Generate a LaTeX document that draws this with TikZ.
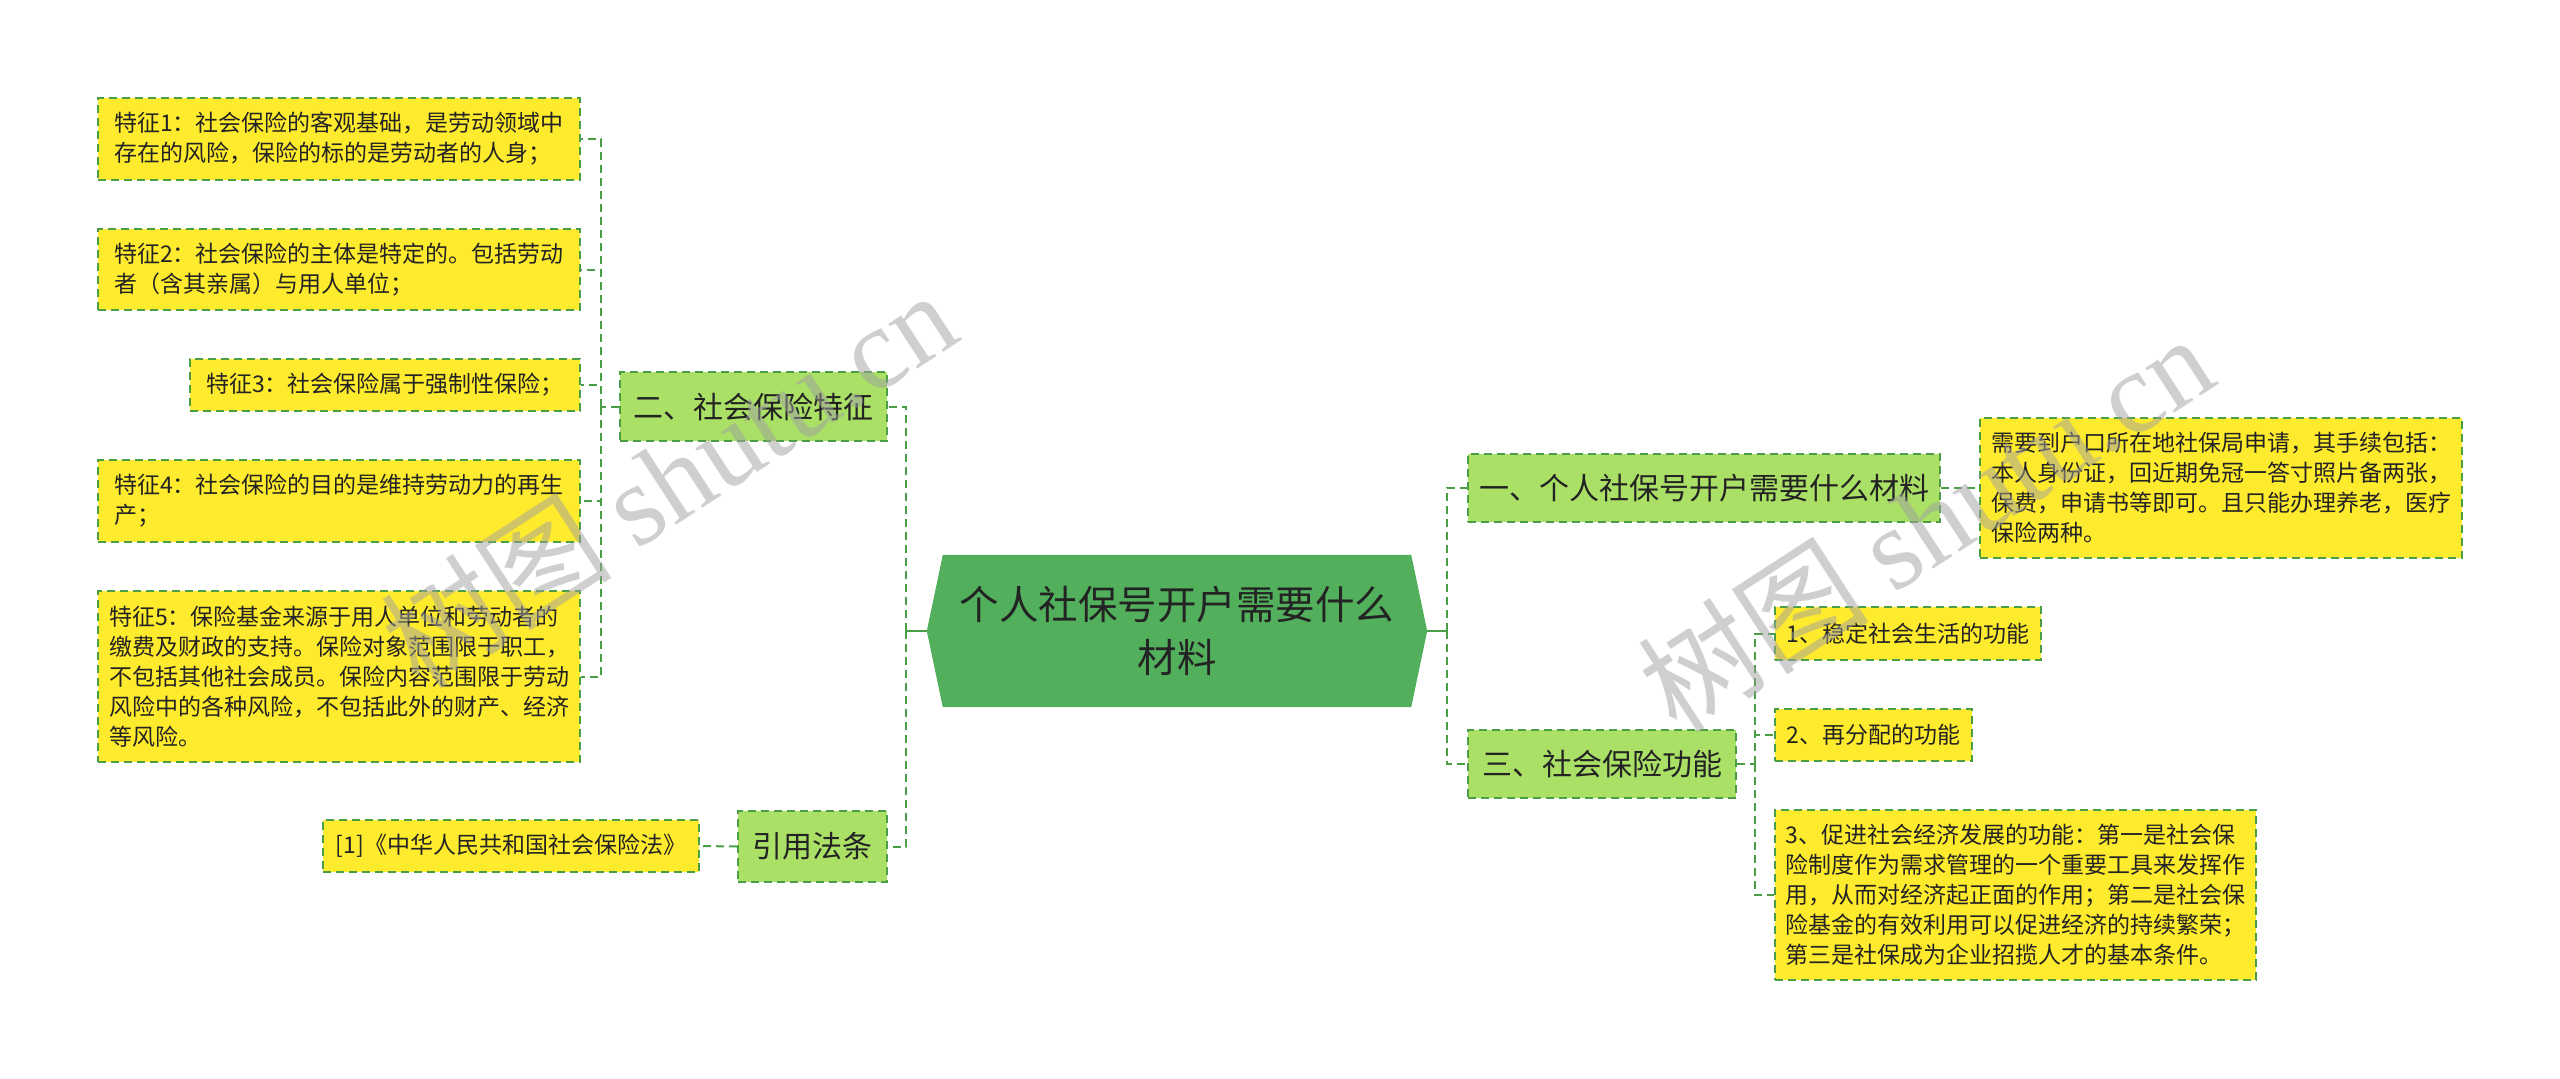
\documentclass[tikz,border=0pt]{standalone}
\usepackage{fontspec}
\setmainfont{Noto Sans CJK SC}
\newfontfamily\wmlatin{Liberation Serif}
\usetikzlibrary{backgrounds,calc}
\definecolor{rootfill}{RGB}{82,176,92}
\definecolor{brfill}{RGB}{170,224,102}
\definecolor{lffill}{RGB}{255,235,45}
\definecolor{edgec}{RGB}{76,158,70}
\definecolor{txt}{RGB}{35,35,35}
\definecolor{wmc}{RGB}{160,160,160}
\begin{document}
\begin{tikzpicture}[x=1pt,y=-1pt,
  leafbox/.style={draw=edgec, line width=2pt, dash pattern=on 8pt off 5pt, fill=lffill, text=txt, align=left, inner sep=0pt, font=\fontsize{23}{30}\selectfont},
  brbox/.style={draw=edgec, line width=2pt, dash pattern=on 8pt off 5pt, fill=brfill, text=txt, inner sep=0pt, font=\fontsize{30}{36}\selectfont},
  rootnode/.style={inner sep=0pt, text=txt, align=center, font=\fontsize{39.5}{53}\selectfont, minimum width=500pt, minimum height=152pt},
  conn/.style={draw=edgec, line width=2pt, dash pattern=on 8pt off 5pt},
  stub/.style={draw=edgec, line width=2.5pt},
  wmstyle/.style={text=wmc, opacity=0.5, font=\fontsize{116}{120}\selectfont, inner sep=0pt}
]
\useasboundingbox (0,0) rectangle (2560,1079);
\begin{scope}[on background layer]
\fill[white] (0,0) rectangle (2560,1079);
\end{scope}

% root
\node[rootnode] (root) at (1177,631) {个人社保号开户需要什么\\材料};
\begin{scope}[on background layer]
\fill[rootfill] ([xshift=16pt]root.north west) -- (root.west) -- ([xshift=16pt]root.south west)
  -- ([xshift=-16pt]root.south east) -- (root.east) -- ([xshift=-16pt]root.north east) -- cycle;
\end{scope}

% left branches
\node[brbox, minimum width=267pt, minimum height=69pt] (b2) at (753.5,406.5) {二、社会保险特征};
\node[brbox, minimum width=149pt, minimum height=71pt] (blaw) at (812.5,846.5) {引用法条};

% left leaves
\node[leafbox, minimum width=482pt, minimum height=82pt] (f1) at (339,139) {特征1：社会保险的客观基础，是劳动领域中\\存在的风险，保险的标的是劳动者的人身；};
\node[leafbox, minimum width=482pt, minimum height=81pt] (f2) at (339,269.5) {特征2：社会保险的主体是特定的。包括劳动\\者（含其亲属）与用人单位；};
\node[leafbox, minimum width=390pt, minimum height=52pt] (f3) at (385,385) {特征3：社会保险属于强制性保险；};
\node[leafbox, minimum width=482pt, minimum height=82pt] (f4) at (339,501) {特征4：社会保险的目的是维持劳动力的再生\\产；};
\node[leafbox, minimum width=482pt, minimum height=171pt] (f5) at (339,676.5) {特征5：保险基金来源于用人单位和劳动者的\\缴费及财政的支持。保险对象范围限于职工，\\不包括其他社会成员。保险内容范围限于劳动\\风险中的各种风险，不包括此外的财产、经济\\等风险。};
\node[leafbox, minimum width=376pt, minimum height=52pt] (lawleaf) at (511,846) {[1]《中华人民共和国社会保险法》};

% right branches
\node[brbox, minimum width=472pt, minimum height=68pt] (b1) at (1704,488) {一、个人社保号开户需要什么材料};
\node[brbox, minimum width=268pt, minimum height=68pt] (b3) at (1602,764) {三、社会保险功能};

% right leaves
\node[leafbox, minimum width=482pt, minimum height=140pt] (r1) at (2221,488) {需要到户口所在地社保局申请，其手续包括：\\本人身份证，回近期免冠一答寸照片备两张，\\保费，申请书等即可。且只能办理养老，医疗\\保险两种。};
\node[leafbox, minimum width=266pt, minimum height=53pt] (g1) at (1908,633.5) {1、稳定社会生活的功能};
\node[leafbox, minimum width=197pt, minimum height=52pt] (g2) at (1873.5,735) {2、再分配的功能};
\node[leafbox, minimum width=481pt, minimum height=170pt] (g3) at (2015.5,895) {3、促进社会经济发展的功能：第一是社会保\\险制度作为需求管理的一个重要工具来发挥作\\用，从而对经济起正面的作用；第二是社会保\\险基金的有效利用可以促进经济的持续繁荣；\\第三是社保成为企业招揽人才的基本条件。};

% connectors
\coordinate (jl) at (906,631);
\coordinate (jr) at (1447,631);
\draw[stub] (root.west) -- (jl);
\draw[conn] (jl) |- (b2.east);
\draw[conn] (jl) |- (blaw.east);
\draw[stub] (root.east) -- (jr);
\draw[conn] (jr) |- (b1.west);
\draw[conn] (jr) |- (b3.west);

\coordinate (j2) at (601,406.5);
\draw[conn] (b2.west) -- (j2);
\foreach \n in {f1,f2,f3,f4,f5} \draw[conn] (j2) |- (\n.east);
\draw[conn] (blaw.west) -- (lawleaf.east);

\draw[conn] (b1.east) -- (r1.west);
\coordinate (j3) at (1755,764);
\draw[conn] (b3.east) -- (j3);
\foreach \n in {g1,g2,g3} \draw[conn] (j3) |- (\n.west);

% watermarks
\node[wmstyle, rotate=33] (wm1) at (668,478) {树图 {\wmlatin shutu.cn}};
\node[wmstyle, rotate=33] (wm2) at (1925,522) {树图 {\wmlatin shutu.cn}};
\end{tikzpicture}
\end{document}
